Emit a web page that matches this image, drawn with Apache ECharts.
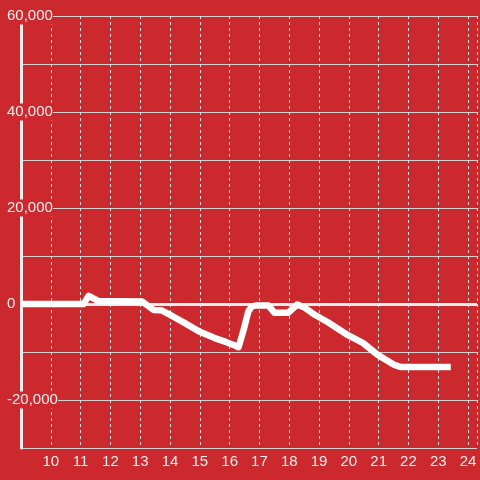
<!DOCTYPE html>
<html>
<head>
<meta charset="utf-8">
<script src="https://cdn.jsdelivr.net/npm/echarts@6/dist/echarts.min.js"></script>
<style>
  html, body { margin: 0; padding: 0; background: #cc292e; }
  #chart { width: 480px; height: 480px; }
</style>
</head>
<body>
<div id="chart"></div>
<script>
// hour of day (x) and running value (y)
const hours = [9, 11.1, 11.27, 11.6, 13.07, 13.45, 13.7, 14.1, 14.5, 15.0, 15.5, 15.87, 16.2, 16.3,
  16.47, 16.63, 16.75, 16.9, 17.3, 17.5, 17.97, 18.27, 18.53, 18.87, 19.3, 19.97, 20.47, 20.97, 21.53, 21.73, 23.42];
const values = [0, 0, 1700, 600, 500, -1250, -1300, -2600, -4000, -5800, -7100, -7900, -8700, -9000,
  -5400, -1500, -500, -300, -300, -1800, -1800, -100, -800, -2300, -3800, -6500, -8100, -10600, -12700, -13100, -13100];

const xTicks = [10, 11, 12, 13, 14, 15, 16, 17, 18, 19, 20, 21, 22, 23, 24];
const yLabels = [-20000, 0, 20000, 40000, 60000];

const bg = '#cc292e';
const textColor = '#eeeeee';

const chart = echarts.init(document.getElementById('chart'));

chart.setOption({
  backgroundColor: bg,
  animation: false,
  grid: { left: 21, right: 0, top: 16, bottom: 32, containLabel: false },
  xAxis: {
    type: 'value',
    min: 9,
    max: 24.3,
    interval: 1,
    axisLine: { show: false },
    axisTick: { show: false },
    axisLabel: {
      color: textColor,
      fontSize: 15,
      fontFamily: 'Liberation Sans',
      margin: 6,
      formatter: v => (xTicks.indexOf(v) >= 0 ? String(v) : ''),
    },
    splitLine: {
      show: true,
      lineStyle: { color: '#dddddd', width: 1, type: [3, 3] },
    },
  },
  yAxis: {
    type: 'value',
    min: -30000,
    max: 60000,
    interval: 10000,
    axisLine: { show: true, lineStyle: { color: '#eeeeee', width: 3 } },
    axisTick: { show: false },
    axisLabel: {
      color: textColor,
      fontSize: 15,
      fontFamily: 'Liberation Sans',
      align: 'left',
      margin: 14,
      padding: [2, 0, 0, 0],
      backgroundColor: bg,
      formatter: v => (yLabels.indexOf(v) >= 0 ? v.toLocaleString('en-US') : ''),
    },
    splitLine: {
      show: true,
      lineStyle: { color: '#d0d0d0', width: 1 },
    },
  },
  series: [
    {
      type: 'line',
      data: hours.map((h, i) => [h, values[i]]),
      symbol: 'none',
      lineStyle: { color: '#ffffff', width: 6.5, join: 'round' },
      markLine: {
        silent: true,
        symbol: 'none',
        label: { show: false },
        lineStyle: { color: '#eeeeee', width: 3, type: 'solid' },
        data: [{ yAxis: 0 }],
        z: 1,
      },
    },
  ],
});
</script>
</body>
</html>
